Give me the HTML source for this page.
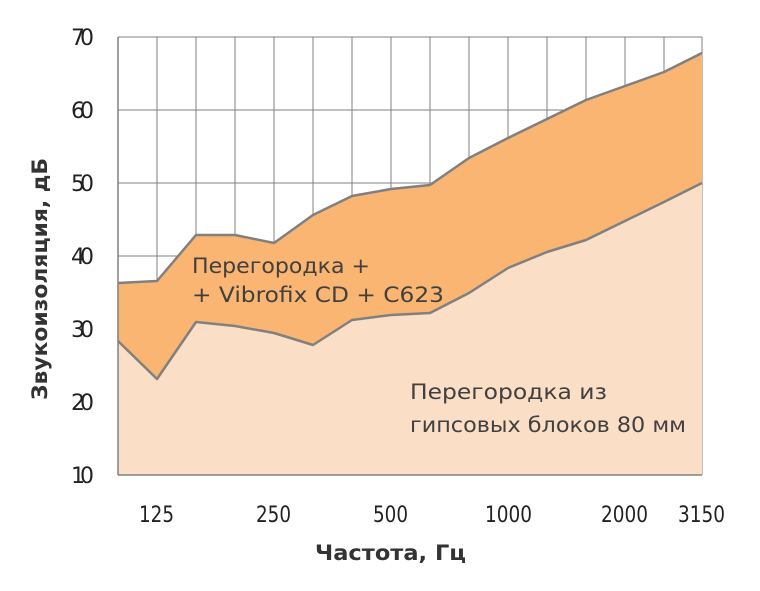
<!DOCTYPE html>
<html><head><meta charset="utf-8"><style>
body{margin:0;background:#fff;}
svg{display:block;font-family:"DejaVu Sans","Liberation Sans",sans-serif;}
</style></head><body>
<svg width="760" height="591" viewBox="0 0 760 591">
<rect width="760" height="591" fill="#fff"/>
<g stroke="#808080" stroke-width="1">
<line x1="118" y1="37" x2="702" y2="37"/><line x1="118" y1="110" x2="702" y2="110"/><line x1="118" y1="183" x2="702" y2="183"/><line x1="118" y1="256" x2="702" y2="256"/><line x1="118" y1="329" x2="702" y2="329"/><line x1="118" y1="402" x2="702" y2="402"/>
<line x1="157" y1="37" x2="157" y2="475"/><line x1="196" y1="37" x2="196" y2="475"/><line x1="235" y1="37" x2="235" y2="475"/><line x1="274" y1="37" x2="274" y2="475"/><line x1="313" y1="37" x2="313" y2="475"/><line x1="352" y1="37" x2="352" y2="475"/><line x1="391" y1="37" x2="391" y2="475"/><line x1="430" y1="37" x2="430" y2="475"/><line x1="469" y1="37" x2="469" y2="475"/><line x1="508" y1="37" x2="508" y2="475"/><line x1="547" y1="37" x2="547" y2="475"/><line x1="586" y1="37" x2="586" y2="475"/><line x1="625" y1="37" x2="625" y2="475"/><line x1="664" y1="37" x2="664" y2="475"/><line x1="702" y1="37" x2="702" y2="475"/>
</g>
<polygon fill="#F9B571" points="118,283 157,281 196,235 235,235 274,243 313,215 352,196 391,189 430,185 469,158 508,138 547,119 586,100 625,86 664,72 702,53 702,183 664,202 625,221 586,240 547,252 508,268 469,293 430,313 391,315 352,320 313,345 274,333 235,326 196,322 157,379 118,341"/>
<polygon fill="#FBDEC6" points="118,341 157,379 196,322 235,326 274,333 313,345 352,320 391,315 430,313 469,293 508,268 547,252 586,240 625,221 664,202 702,183 702,475 118,475"/>
<g fill="none" stroke="#808080" stroke-width="2.5" stroke-linejoin="round">
<polyline points="118,283 157,281 196,235 235,235 274,243 313,215 352,196 391,189 430,185 469,158 508,138 547,119 586,100 625,86 664,72 702,53"/>
<polyline points="118,341 157,379 196,322 235,326 274,333 313,345 352,320 391,315 430,313 469,293 508,268 547,252 586,240 625,221 664,202 702,183"/>
</g>
<g stroke="#808080" stroke-width="1.5"><line x1="118" y1="37" x2="118" y2="475"/><line x1="118" y1="475" x2="702" y2="475"/></g>
<g font-size="22" fill="#222" lengthAdjust="spacingAndGlyphs">
<text x="71" y="45" textLength="23">70</text><text x="71" y="118" textLength="23">60</text><text x="71" y="191" textLength="23">50</text><text x="71" y="264" textLength="23">40</text><text x="71" y="337" textLength="23">30</text><text x="71" y="410" textLength="23">20</text><text x="71" y="483" textLength="23">10</text>
</g>
<g font-size="22" fill="#222">
<text x="139" y="522" textLength="35" lengthAdjust="spacingAndGlyphs">125</text>
<text x="256" y="522" textLength="35" lengthAdjust="spacingAndGlyphs">250</text>
<text x="373" y="522" textLength="35" lengthAdjust="spacingAndGlyphs">500</text>
<text x="485" y="522" textLength="47" lengthAdjust="spacingAndGlyphs">1000</text>
<text x="601" y="522" textLength="47" lengthAdjust="spacingAndGlyphs">2000</text>
<text x="678" y="522" textLength="47" lengthAdjust="spacingAndGlyphs">3150</text>
</g>
<text x="315" y="560" font-size="21" font-weight="bold" fill="#333" textLength="151" lengthAdjust="spacingAndGlyphs">Частота, Гц</text>
<text transform="translate(47,400) rotate(-90)" font-size="21" font-weight="bold" fill="#333" textLength="242" lengthAdjust="spacingAndGlyphs">Звукоизоляция, дБ</text>
<g font-size="21" fill="#404040">
<text x="192" y="273" textLength="178" lengthAdjust="spacingAndGlyphs">Перегородка +</text>
<text x="192" y="302" textLength="252" lengthAdjust="spacingAndGlyphs">+ Vibrofix CD + C623</text>
<text x="410" y="399" textLength="197" lengthAdjust="spacingAndGlyphs">Перегородка из</text>
<text x="410" y="432" textLength="276" lengthAdjust="spacingAndGlyphs">гипсовых блоков 80 мм</text>
</g>
</svg>
</body></html>
